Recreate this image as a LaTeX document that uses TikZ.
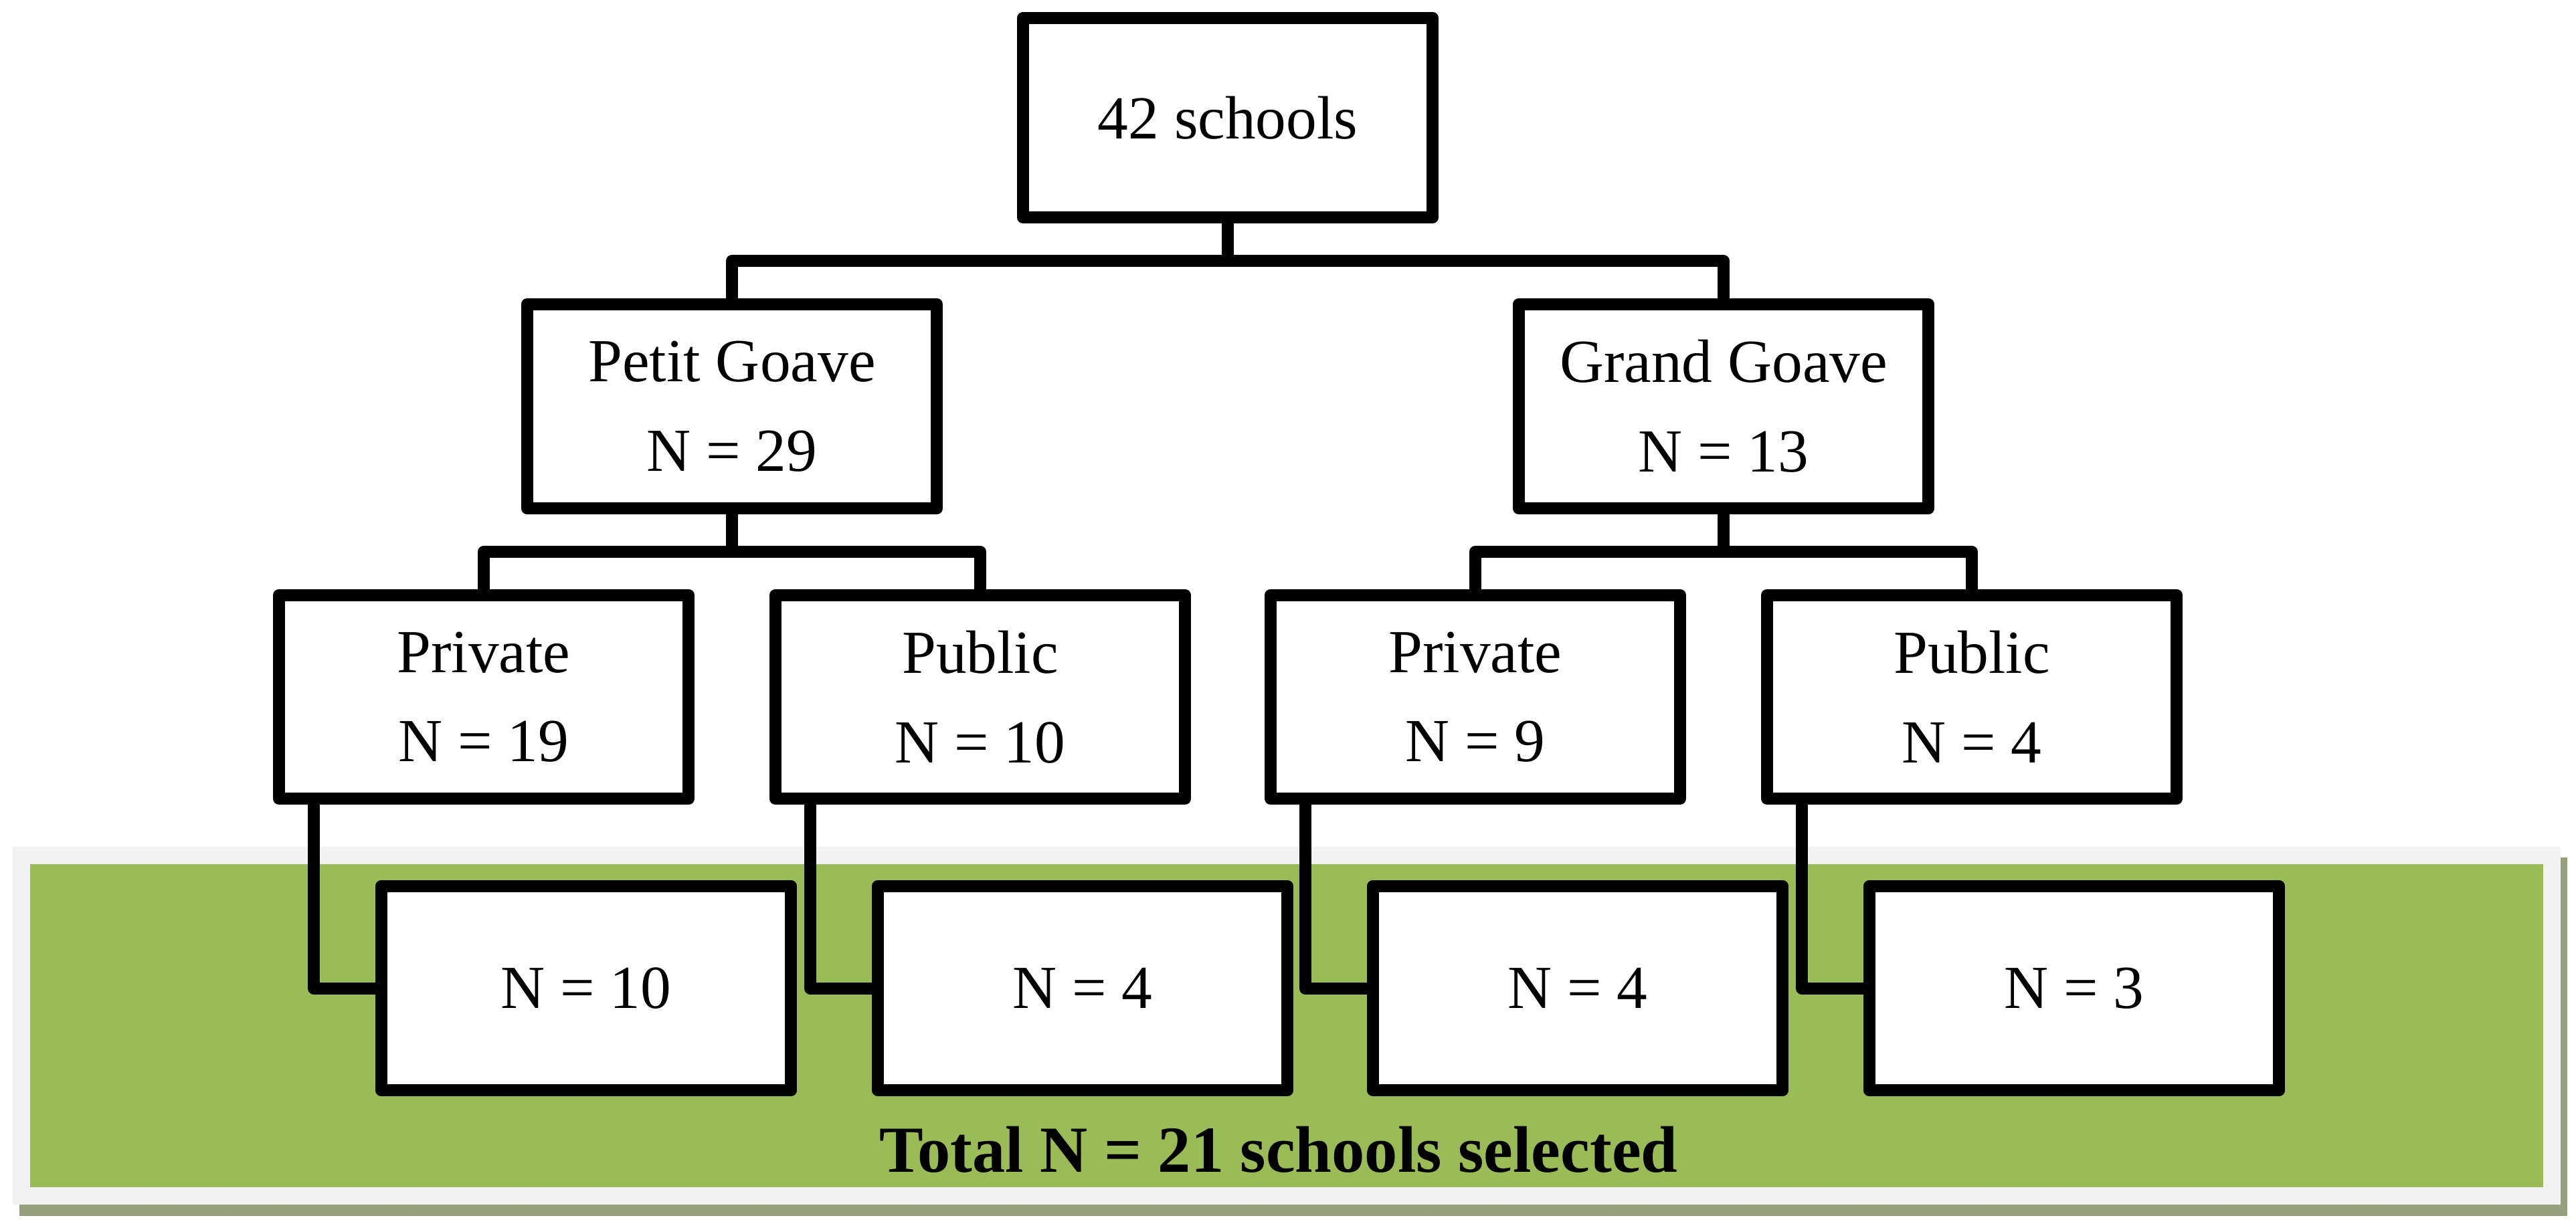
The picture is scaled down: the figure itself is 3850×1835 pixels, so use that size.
\documentclass[tikz,border=0pt]{standalone}
\usepackage{fontspec}
\setmainfont{Liberation Serif}
\usetikzlibrary{positioning,calc}
\definecolor{bandgreen}{RGB}{155,187,89}
\definecolor{bandframe}{RGB}{242,242,242}
\definecolor{bandshadow}{RGB}{150,160,125}
\tikzset{
  box/.style={draw=black, fill=white, line width=0.18cm, line join=round,
    minimum width=6.12cm, minimum height=3.05cm, inner sep=0pt, align=center,
    font=\fontsize{26pt}{38pt}\selectfont},
  conn/.style={draw=black, line width=0.18cm, line join=round},
}
\begin{document}
\begin{tikzpicture}[x=0.01cm, y=-0.01cm]
\useasboundingbox (0,0) rectangle (3850,1835);
% green band with frame and shadow
\fill[bandshadow] (29,1282) rectangle (3837,1818);
\fill[bandframe] (19,1266) rectangle (3827,1801);
\fill[bandgreen] (45,1292) rectangle (3801,1775);
\node[font=\fontsize{28pt}{34pt}\selectfont\bfseries, anchor=base] (total) at (1911,1752) {Total N = 21 schools selected};
% boxes
\node[box, minimum height=2.98cm] (top) at (1835,176) {42 schools};
\node[box] (pg) at (1094,607.5) {Petit Goave\\N = 29};
\node[box] (gg) at (2576,607.5) {Grand Goave\\N = 13};
\node[box, minimum height=3.04cm] (pgpriv) at (723,1042) {Private\\N = 19};
\node[box, minimum height=3.04cm] (pgpub) at (1465,1042) {Public\\N = 10};
\node[box, minimum height=3.04cm] (ggpriv) at (2205,1042) {Private\\N = 9};
\node[box, minimum height=3.04cm] (ggpub) at (2947,1042) {Public\\N = 4};
\node[box] (b1) at (876,1477.5) {N = 10};
\node[box] (b2) at (1618,1477.5) {N = 4};
\node[box] (b3) at (2358,1477.5) {N = 4};
\node[box] (b4) at (3100,1477.5) {N = 3};
% bus points
\coordinate (bus0) at (1835,390);
\coordinate (busl) at (1094,825);
\coordinate (busr) at (2576,825);
% connectors
\draw[conn] (top.south) -- (bus0);
\draw[conn] (pg.north) |- (bus0) -| (gg.north);
\draw[conn] (pg.south) -- (busl);
\draw[conn] (pgpriv.north) |- (busl) -| (pgpub.north);
\draw[conn] (gg.south) -- (busr);
\draw[conn] (ggpriv.north) |- (busr) -| (ggpub.north);
\draw[conn] ([xshift=0.61cm]pgpriv.south west) |- (b1.west);
\draw[conn] ([xshift=0.61cm]pgpub.south west) |- (b2.west);
\draw[conn] ([xshift=0.61cm]ggpriv.south west) |- (b3.west);
\draw[conn] ([xshift=0.61cm]ggpub.south west) |- (b4.west);
\end{tikzpicture}
\end{document}
